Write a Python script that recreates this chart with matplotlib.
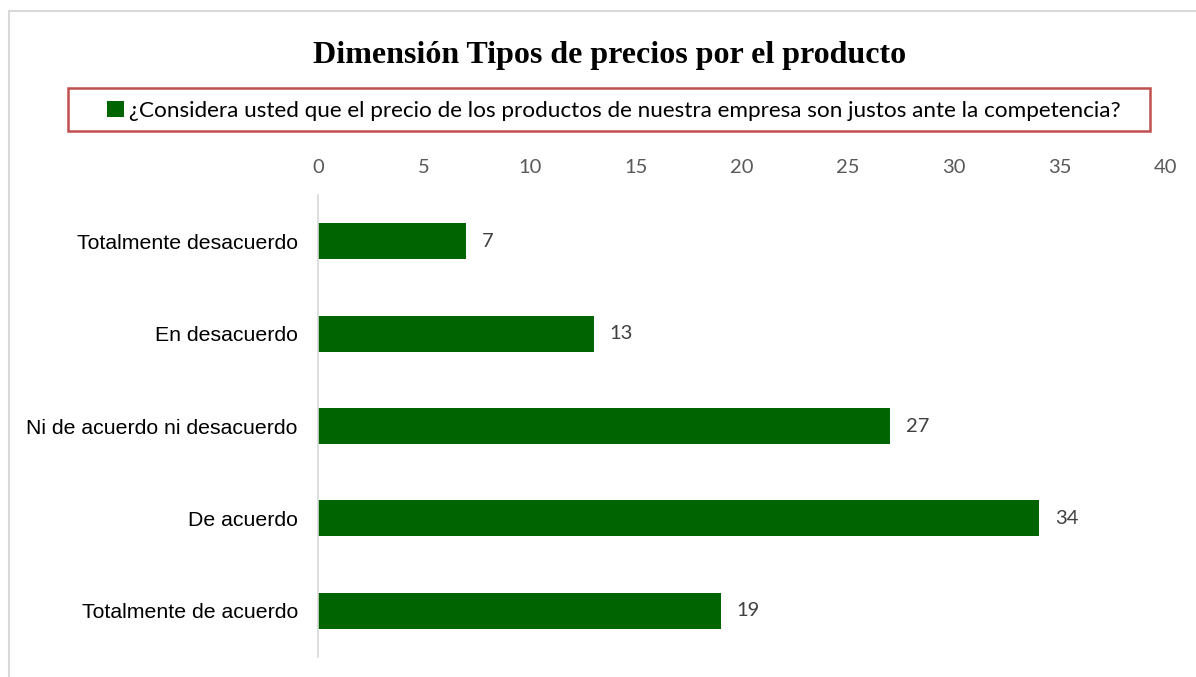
import matplotlib.pyplot as plt
from matplotlib.patches import Rectangle

# data
categories = ["Totalmente desacuerdo", "En desacuerdo", "Ni de acuerdo ni desacuerdo",
              "De acuerdo", "Totalmente de acuerdo"]
values = [7, 13, 27, 34, 19]
series_name = "¿Considera usted que el precio de los productos de nuestra empresa son justos ante la competencia?"
title = "Dimensión Tipos de precios por el producto"
x_ticks = [0, 5, 10, 15, 20, 25, 30, 35, 40]

W, H = 1196, 677
fig = plt.figure(figsize=(W / 100, H / 100), dpi=100)

# outer chart border
fig.patches.append(Rectangle((9 / W, -0.05), 1.1, 1 - 11 / H + 0.05, transform=fig.transFigure,
                             fill=False, edgecolor="#d9d9d9", linewidth=1.5))

ax = fig.add_axes([318 / W, 1 - 657 / H, (1166 - 318) / W, (657 - 195) / H])

y_pos = list(range(len(categories)))
bars = ax.barh(y_pos, values, height=0.39, color="#006400", label=series_name)
ax.set_ylim(len(categories) - 0.5, -0.5)
ax.set_xlim(0, 40)

ax.set_yticks(y_pos)
ax.set_yticklabels(categories, fontsize=15.3, family="Liberation Sans", color="#000000")
ax.set_xticks(x_ticks)
ax.xaxis.tick_top()
ax.tick_params(axis="x", length=0, pad=14, labelsize=14.5, labelcolor="#595959")
ax.tick_params(axis="y", length=0, pad=14.5)
for lab in ax.get_xticklabels():
    lab.set_family("Lato")

for s in ["top", "right", "bottom"]:
    ax.spines[s].set_visible(False)
ax.spines["left"].set_color("#d9d9d9")
ax.spines["left"].set_linewidth(1.2)

for b, v in zip(bars, values):
    ax.text(v + 0.75, b.get_y() + b.get_height() / 2, str(v), va="center", ha="left",
            fontsize=14.5, color="#404040", family="Lato")

fig.text(610 / W, 1 - 55 / H, title, ha="center", va="center", fontsize=23,
         fontweight="bold", family="Liberation Serif")

# legend box
fig.patches.append(Rectangle((68 / W, 1 - 131 / H), (1150 - 68) / W, 43 / H,
                             transform=fig.transFigure, fill=False,
                             edgecolor="#c0504d", linewidth=1.8))
leg = fig.legend(loc="center", bbox_to_anchor=(614 / W, 1 - 111 / H),
                 prop={"family": "Lato", "size": 16.2}, handlelength=0.75, handleheight=0.75,
                 handletextpad=0.25, borderpad=0.2, frameon=False)

fig.savefig("out.png", dpi=100)
